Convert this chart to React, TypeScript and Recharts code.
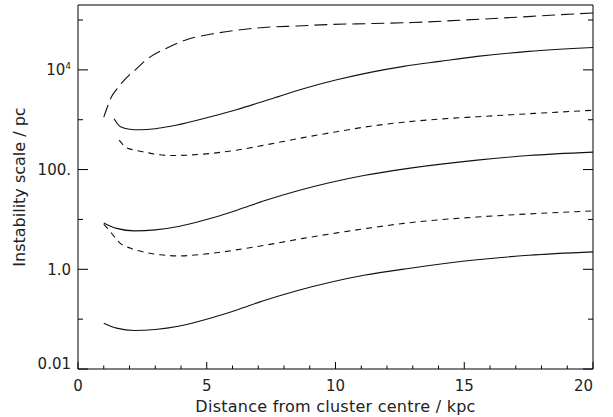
import React from 'react';
import { LineChart, Line, XAxis, YAxis } from 'recharts';

const FONT = '"DejaVu Sans", sans-serif';
const INK = '#222';

// axis ticks (every kpc, every decade); only some get labels
const xTicks = [0, 1, 2, 3, 4, 5, 6, 7, 8, 9, 10, 11, 12, 13, 14, 15, 16, 17, 18, 19, 20];
const xLabelValues = [0, 5, 10, 15, 20];
const yTicks = [0.01, 0.1, 1, 10, 100, 1000, 10000, 100000];
const yLabelValues = [0.01, 1, 100, 10000];
const yLabelTexts = ['0.01', '1.0', '100.', '10^4'];

// long dashed curve (top)
const longDashX = [1.0, 1.15, 1.3, 1.5, 1.7, 2.0, 2.2, 2.7, 3.5, 4.3, 5.2, 6.1, 7.2, 8.5, 9.8, 11.5, 13.0, 15.0, 16.8, 18.5, 20.0];
const longDashY = [1120, 1860, 2880, 4070, 5500, 7940, 9770, 16600, 28200, 41700, 52500, 61700, 70800, 75900, 81300, 85100, 89100, 100000, 112000, 126000, 138000];

// solid curves
const solidTopX = [1.4, 1.65, 2.0, 2.4, 3.0, 3.6, 4.85, 6.15, 7.45, 8.75, 10.05, 11.35, 12.65, 14.05, 15.5, 17.5, 20.0];
const solidTopY = [1047, 724, 646, 631, 661, 741, 1047, 1585, 2570, 4169, 6310, 8913, 11749, 14791, 18621, 23442, 28184];

const solidX = [1.0, 1.5, 2.2, 3.0, 3.9, 5.2, 6.2, 7.2, 8.5, 9.8, 11.1, 12.9, 15.5, 17.5, 20.0];
const solidMidY = [8.51, 6.61, 5.89, 6.17, 7.24, 10.7, 15.5, 23.4, 37.2, 55.0, 75.9, 107, 155, 191, 224];
const solidLowY = [0.083, 0.066, 0.059, 0.062, 0.072, 0.107, 0.155, 0.234, 0.372, 0.55, 0.759, 1.05, 1.55, 1.91, 2.24];

// short dashed curves
const dashTopX = [1.6, 1.85, 2.2, 2.6, 3.0, 3.6, 4.65, 6.15, 7.45, 8.75, 10.05, 11.35, 12.65, 13.95, 15.5, 17.5, 20.0];
const dashTopY = [389, 282, 245, 224, 204, 191, 200, 245, 324, 437, 575, 741, 891, 1023, 1148, 1318, 1549];

const dashMidX = [1.0, 1.2, 1.4, 1.6, 2.05, 2.6, 3.2, 3.9, 5.2, 6.15, 7.45, 8.75, 10.05, 11.35, 12.65, 13.95, 15.5, 17.5, 20.0];
const dashMidY = [7.94, 6.17, 4.57, 3.47, 2.63, 2.19, 1.95, 1.86, 2.09, 2.45, 3.16, 4.17, 5.37, 6.76, 8.32, 9.77, 11.2, 12.9, 14.8];

const toData = (xs: number[], ys: number[]) => xs.map((x, i) => ({ x, v: ys[i] }));

const XTickBottom = (props: any) => {
  const { x, y, payload } = props;
  const v = payload.value;
  const major = xLabelValues.includes(v);
  const last = v === 20;
  return (
    <g>
      <line x1={x} x2={x} y1={y} y2={y - (major ? 7 : 3.5)} stroke="#000" />
      {major && (
        <text x={x} y={y + 22} textAnchor={last ? 'end' : 'middle'} fontSize={15} fontFamily={FONT} fill={INK}>
          {v}
        </text>
      )}
    </g>
  );
};

const XTickTop = (props: any) => {
  const { x, y, payload } = props;
  const major = xLabelValues.includes(payload.value);
  return <line x1={x} x2={x} y1={y} y2={y + (major ? 7 : 3.5)} stroke="#000" />;
};

const YTickLeft = (props: any) => {
  const { x, y, payload } = props;
  const idx = yLabelValues.indexOf(payload.value);
  const major = idx >= 0;
  const label = major ? yLabelTexts[idx] : '';
  const [base, exp] = label.split('^');
  const ty = payload.value === 0.01 ? y : y + 5.5;
  return (
    <g>
      <line x1={x} x2={x + (major ? 10 : 5)} y1={y} y2={y} stroke="#000" />
      {major && (
        <text x={x - 7} y={ty} textAnchor="end" fontSize={15} fontFamily={FONT} fill={INK}>
          {base}
          {exp && (
            <tspan fontSize={9} dy={-6}>
              {exp}
            </tspan>
          )}
        </text>
      )}
    </g>
  );
};

const YTickRight = (props: any) => {
  const { x, y, payload } = props;
  const major = yLabelValues.includes(payload.value);
  return <line x1={x} x2={x - (major ? 10 : 5)} y1={y} y2={y} stroke="#000" />;
};

const XTitle = (props: any) => {
  const { viewBox } = props;
  return (
    <text
      x={viewBox.x + viewBox.width / 2}
      y={viewBox.y + 43}
      textAnchor="middle"
      fontSize={16}
      letterSpacing={0.25}
      fontFamily={FONT}
      fill={INK}
    >
      Distance from cluster centre / kpc
    </text>
  );
};

const YTitle = (props: any) => {
  const { viewBox } = props;
  const cy = viewBox.y + viewBox.height / 2;
  return (
    <text x={25} y={cy} transform={`rotate(-90, 25, ${cy})`} textAnchor="middle" fontSize={16} fontFamily={FONT} fill={INK}>
      Instability scale / pc
    </text>
  );
};

export default function App() {
  const line = { type: 'monotone' as const, dataKey: 'v', stroke: '#111', strokeWidth: 1.1, dot: false, isAnimationActive: false };
  return (
    <div style={{ position: 'absolute', left: 0, top: 0, background: '#fff' }}>
      <LineChart width={613} height={417} margin={{ top: 4, right: 19, bottom: 47, left: 77 }}>
        <XAxis
          dataKey="x"
          type="number"
          domain={[0, 20]}
          ticks={xTicks}
          tick={<XTickBottom />}
          tickSize={0}
          tickMargin={0}
          height={1}
          interval={0}
          allowDataOverflow
          axisLine={{ stroke: '#000' }}
          label={<XTitle />}
        />
        <XAxis
          xAxisId="top"
          orientation="top"
          type="number"
          domain={[0, 20]}
          ticks={xTicks}
          tick={<XTickTop />}
          tickSize={0}
          tickMargin={0}
          height={1}
          interval={0}
          allowDataOverflow
          axisLine={{ stroke: '#000' }}
        />
        <YAxis
          type="number"
          scale="log"
          domain={[0.01, 200000]}
          ticks={yTicks}
          tick={<YTickLeft />}
          tickSize={0}
          tickMargin={0}
          width={1}
          interval={0}
          allowDataOverflow
          axisLine={{ stroke: '#000' }}
          label={<YTitle />}
        />
        <YAxis
          yAxisId="right"
          orientation="right"
          type="number"
          scale="log"
          domain={[0.01, 200000]}
          ticks={yTicks}
          tick={<YTickRight />}
          tickSize={0}
          tickMargin={0}
          width={1}
          interval={0}
          allowDataOverflow
          axisLine={{ stroke: '#000' }}
        />
        <Line {...line} data={toData(longDashX, longDashY)} strokeDasharray="13 6" />
        <Line {...line} data={toData(solidTopX, solidTopY)} />
        <Line {...line} data={toData(dashTopX, dashTopY)} strokeDasharray="6 5" />
        <Line {...line} data={toData(solidX, solidMidY)} />
        <Line {...line} data={toData(dashMidX, dashMidY)} strokeDasharray="6 5" />
        <Line {...line} data={toData(solidX, solidLowY)} />
      </LineChart>
    </div>
  );
}
